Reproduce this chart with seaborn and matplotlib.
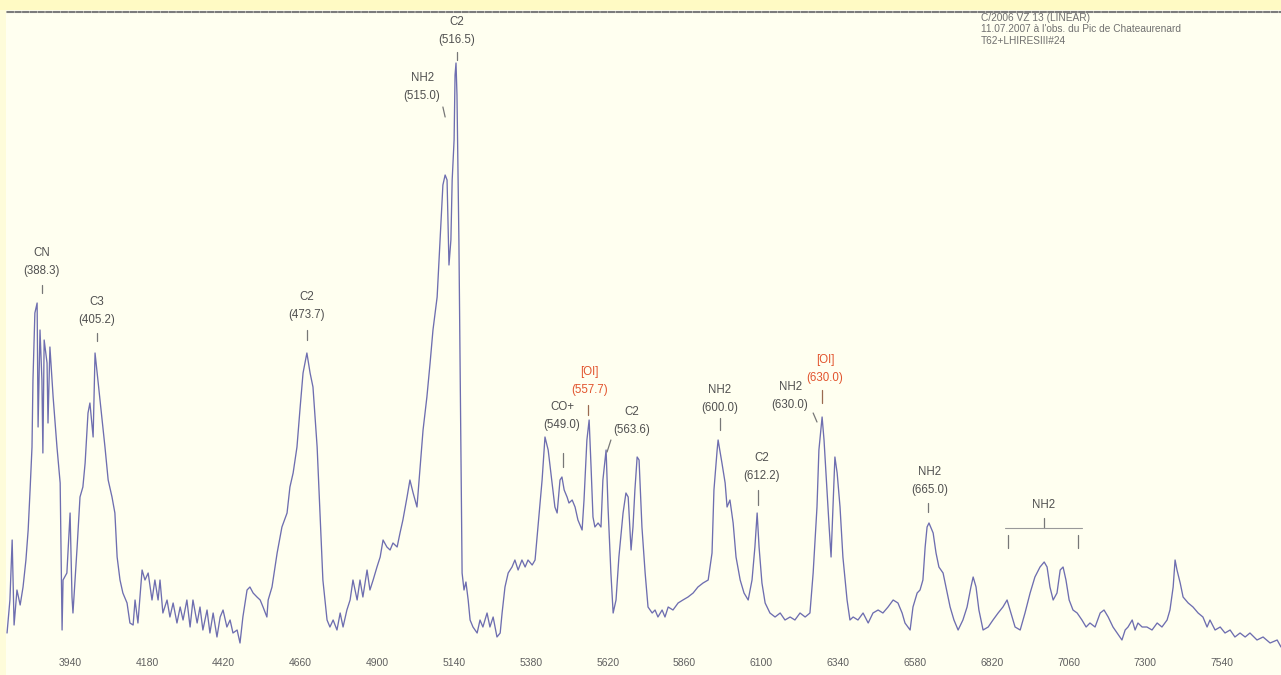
import matplotlib
matplotlib.use("Agg")
import matplotlib.pyplot as plt
from matplotlib.patches import Rectangle
import seaborn as sns
import pandas as pd

# Comet spectrum: wavelength (Angstrom) and relative flux
wavelength = [
    3743, 3752, 3759, 3765, 3774, 3784, 3793, 3802, 3809, 3815, 3821, 3824, 3830, 3837, 3840,
    3846, 3852, 3855, 3859, 3868, 3871, 3877, 3887, 3899, 3909, 3915, 3918, 3930, 3940, 3946,
    3949, 3962, 3971, 3980, 3987, 3996, 4002, 4012, 4018, 4027, 4040, 4049, 4059, 4071, 4080,
    4087, 4096, 4105, 4118, 4127, 4137, 4143, 4152, 4165, 4174, 4184, 4196, 4205, 4215, 4221,
    4230, 4243, 4252, 4262, 4274, 4284, 4293, 4305, 4315, 4324, 4337, 4346, 4355, 4368, 4377,
    4387, 4399, 4409, 4418, 4430, 4440, 4449, 4462, 4471, 4480, 4493, 4502, 4512, 4524, 4534,
    4543, 4555, 4559, 4571, 4587, 4602, 4618, 4627, 4637, 4649, 4659, 4668, 4680, 4690, 4699,
    4712, 4721, 4730, 4743, 4752, 4762, 4774, 4784, 4793, 4805, 4815, 4824, 4837, 4846, 4855,
    4868, 4877, 4887, 4899, 4909, 4918, 4930, 4940, 4949, 4962, 4971, 4980, 4993, 5002, 5012,
    5024, 5034, 5043, 5055, 5065, 5074, 5087,
    5096, 5105, 5112, 5118, 5124, 5130, 5134, 5140, 5143, 5146, 5149, 5155, 5162, 5165, 5171,
    5177, 5184, 5190, 5199, 5212, 5221, 5230, 5243, 5252, 5262, 5274, 5284, 5290, 5299, 5309,
    5321, 5330, 5340, 5352, 5362, 5371, 5384, 5393, 5402, 5415,
    5424, 5434, 5446, 5455, 5462, 5471, 5477, 5484, 5493, 5499, 5509, 5518, 5527, 5540, 5546,
    5555, 5562, 5568, 5574, 5580, 5590, 5599, 5605, 5615, 5621, 5630, 5637, 5646, 5655, 5668,
    5677, 5684, 5693, 5699, 5705, 5712, 5718, 5727, 5737, 5746, 5759, 5768, 5777, 5790, 5799,
    5809, 5824, 5840, 5855, 5871, 5887, 5902, 5918, 5934, 5946, 5952, 5962, 5965, 5977, 5987,
    5993, 6002, 6012, 6021, 6034, 6046, 6059, 6071, 6080, 6087, 6093, 6102, 6112, 6127, 6143,
    6159, 6174, 6190, 6205, 6221, 6237, 6252, 6262, 6274, 6280, 6290, 6296, 6305, 6312, 6318,
    6324, 6330, 6337, 6346, 6355, 6368, 6377, 6387, 6402, 6418, 6434, 6449, 6465,
    6480, 6496, 6512, 6527, 6540, 6549, 6565, 6574, 6587, 6596, 6605, 6612, 6618, 6624, 6637,
    6646, 6655, 6668, 6677, 6690, 6702, 6715, 6730, 6743, 6755, 6762, 6771, 6780, 6793, 6809,
    6824, 6840, 6855, 6868, 6880, 6893, 6909, 6924, 6940, 6955, 6971, 6984, 6993, 7002, 7012,
    7024, 7034, 7043, 7052, 7062, 7074, 7087, 7102, 7115, 7127, 7143, 7159, 7171, 7184, 7199,
    7212, 7227, 7237, 7246, 7259, 7268, 7277, 7290, 7305, 7321, 7337, 7352, 7368, 7377, 7387,
    7393, 7399, 7409, 7418, 7434, 7449, 7465, 7480, 7493, 7502, 7518, 7534, 7549, 7565, 7580,
    7596, 7612, 7627, 7649, 7668, 7690, 7712, 7724,
]
flux = [
    17, 50, 110, 25, 60, 45, 63, 90, 120, 160, 203, 270, 337, 347, 223,
    320, 270, 197, 310, 287, 227, 303, 253, 203, 167, 20, 70, 77, 137, 53,
    37, 103, 153, 163, 187, 237, 247, 213, 297, 270, 230, 203, 170, 153, 137,
    93, 70, 57, 47, 27, 25, 50, 27, 80, 70, 77, 50, 70, 50, 70,
    37, 50, 33, 47, 27, 43, 30, 50, 23, 50, 27, 43, 20, 40, 17,
    37, 13, 33, 40, 23, 30, 17, 20, 7, 33, 60, 63, 57, 53, 50,
    43, 33, 50, 63, 97, 123, 137, 163, 177, 203, 243, 277, 297, 277, 263,
    203, 137, 70, 30, 23, 30, 20, 37, 23, 40, 50, 70, 50, 70, 53,
    80, 60, 70, 83, 93, 110, 103, 100, 107, 103, 117, 130, 153, 170, 157,
    143, 183, 220, 253, 287, 320, 353,
    410, 465, 475, 470, 385, 410, 470, 510, 575, 587, 555, 410, 177, 77, 60,
    68, 50, 30, 23, 17, 30, 23, 37, 23, 33, 13, 17, 37, 63, 77,
    83, 90, 80, 90, 83, 90, 85, 90, 123, 170,
    213, 200, 167, 143, 137, 170, 173, 160, 153, 147, 150, 143, 130, 120, 150,
    210, 230, 183, 133, 123, 127, 123, 170, 200, 143, 77, 37, 50, 93, 137,
    157, 153, 100, 123, 160, 193, 190, 123, 77, 43, 37, 40, 33, 40, 33,
    43, 40, 47, 50, 53, 57, 63, 67, 70, 97, 160, 200, 210, 187, 167,
    143, 150, 127, 93, 70, 57, 50, 70, 103, 137, 103, 67, 47, 37, 33,
    37, 30, 33, 30, 37, 33, 37, 77, 143, 200, 233, 210, 160, 123, 93,
    143, 193, 177, 143, 93, 50, 30, 33, 30, 37, 27, 37, 40,
    37, 43, 50, 47, 37, 27, 20, 43, 57, 60, 70, 103, 123, 127, 117,
    97, 83, 77, 63, 43, 30, 20, 30, 43, 63, 73, 63, 40, 20, 23,
    30, 37, 43, 50, 37, 23, 20, 37, 57, 73, 83, 88, 83, 63, 50,
    57, 80, 83, 70, 50, 40, 37, 30, 23, 27, 23, 37, 40, 33, 23,
    17, 10, 20, 23, 30, 20, 27, 23, 23, 20, 27, 23, 30, 40, 63,
    90, 80, 67, 53, 47, 43, 37, 33, 23, 30, 20, 23, 17, 20, 13,
    17, 13, 17, 10, 13, 7, 10, 3,
]

tick_values = [3940, 4180, 4420, 4660, 4900, 5140, 5380, 5620,
               5860, 6100, 6340, 6580, 6820, 7060, 7300, 7540]

# Identified emission bands
band_species = ["CN", "C3", "C2", "NH2", "C2", "CO+", "[OI]", "C2",
                "NH2", "C2", "NH2", "[OI]", "NH2"]
band_nm = ["388.3", "405.2", "473.7", "515.0", "516.5", "549.0", "557.7", "563.6",
           "600.0", "612.2", "630.0", "630.0", "665.0"]
forbidden = [False, False, False, False, False, False, True, False,
             False, False, False, True, False]

# Label layout: text centre, first-line height, and the pointer segment
label_x = [3852, 4024, 4680, 5040, 5149, 5477, 5562, 5696, 5971, 6102, 6190, 6299, 6627]
label_y = [397, 348, 353, 572, 628, 243, 278, 238, 260, 192, 263, 290, 178]
ptr_x0 = [3852, 4024, 4680, 5105, 5149, 5480, 5559, 5630, 5971, 6090, 6262, 6290, 6621]
ptr_y0 = [365, 317, 320, 543, 598, 197, 245, 210, 232, 160, 237, 260, 147]
ptr_x1 = [3852, 4024, 4680, 5112, 5149, 5480, 5559, 5618, 5971, 6090, 6274, 6290, 6621]
ptr_y1 = [357, 309, 310, 533, 590, 183, 235, 198, 220, 145, 228, 247, 138]

# Broad NH2 band bracket
bracket_label = "NH2"
bracket_span = (6862, 7102)
bracket_ends = (6871, 7090)

header_lines = ["C/2006 VZ 13 (LINEAR)",
                "11.07.2007 à l'obs. du Pic de Chateaurenard",
                "T62+LHIRESIII#24"]

sns.set_theme(style="white")
plt.rcParams["font.family"] = ["Liberation Sans", "DejaVu Sans"]

W, H = 1281, 675
bg = "#FFFFF0"
fig = plt.figure(figsize=(W / 100, H / 100), dpi=100, facecolor=bg)
fig.patches.append(Rectangle((0, 1 - 10 / H), 1, 10 / H, transform=fig.transFigure,
                             facecolor="#FFFAC4", edgecolor="none", zorder=0))
fig.patches.append(Rectangle((0, 0), 6 / W, 1 - 10 / H, transform=fig.transFigure,
                             facecolor="#FEFCDA", edgecolor="none", zorder=0))

ax = fig.add_axes([0, 25 / H, 1, 638 / H])
ax.set_facecolor("none")

df = pd.DataFrame({"wavelength": wavelength, "flux": flux})
sns.lineplot(data=df, x="wavelength", y="flux", ax=ax, color="#6E6EB0",
             linewidth=0.95, estimator=None, sort=False, legend=False)

ax.set_xlim(3721, 7724)
ax.set_ylim(0, 638)
ax.set_xticks(tick_values)
ax.set_xticklabels([str(v) for v in tick_values])
ax.set_yticks([])
ax.set_xlabel("")
ax.set_ylabel("")
ax.tick_params(axis="x", length=0, pad=6, labelsize=7.5, labelcolor="#606060")
for side in ("left", "right", "bottom"):
    ax.spines[side].set_visible(False)
ax.spines["top"].set_linestyle((0, (2.5, 1.2)))
ax.spines["top"].set_edgecolor("#7C7C7C")
ax.spines["top"].set_linewidth(1.5)

text_grey = "#505050"
red = "#E2542E"
for i, name in enumerate(band_species):
    c = red if forbidden[i] else text_grey
    ax.text(label_x[i], label_y[i], name, ha="center", va="center", fontsize=8.3, color=c)
    ax.text(label_x[i], label_y[i] - 18, f"({band_nm[i]})", ha="center", va="center",
            fontsize=8.3, color=c)
    ax.plot([ptr_x0[i], ptr_x1[i]], [ptr_y0[i], ptr_y1[i]],
            color="#9A6A50" if forbidden[i] else "#777777", linewidth=0.9)

# bracket for the blended NH2 band
bx = (bracket_span[0] + bracket_span[1]) / 2
ax.text(bx, 145, bracket_label, ha="center", va="center", fontsize=8.3, color=text_grey)
ax.plot([bx, bx], [132, 122], color="#777777", linewidth=0.9)
ax.plot(list(bracket_span), [122, 122], color="#999999", linewidth=0.8)
for e in bracket_ends:
    ax.plot([e, e], [115, 102], color="#777777", linewidth=0.9)

for k, line in enumerate(header_lines):
    fig.text(981 / W, 1 - (18 + 11.5 * k) / H, line, ha="left", va="center",
             fontsize=7.3, color="#707070")

fig.savefig("out.png", dpi=100, facecolor=bg)
